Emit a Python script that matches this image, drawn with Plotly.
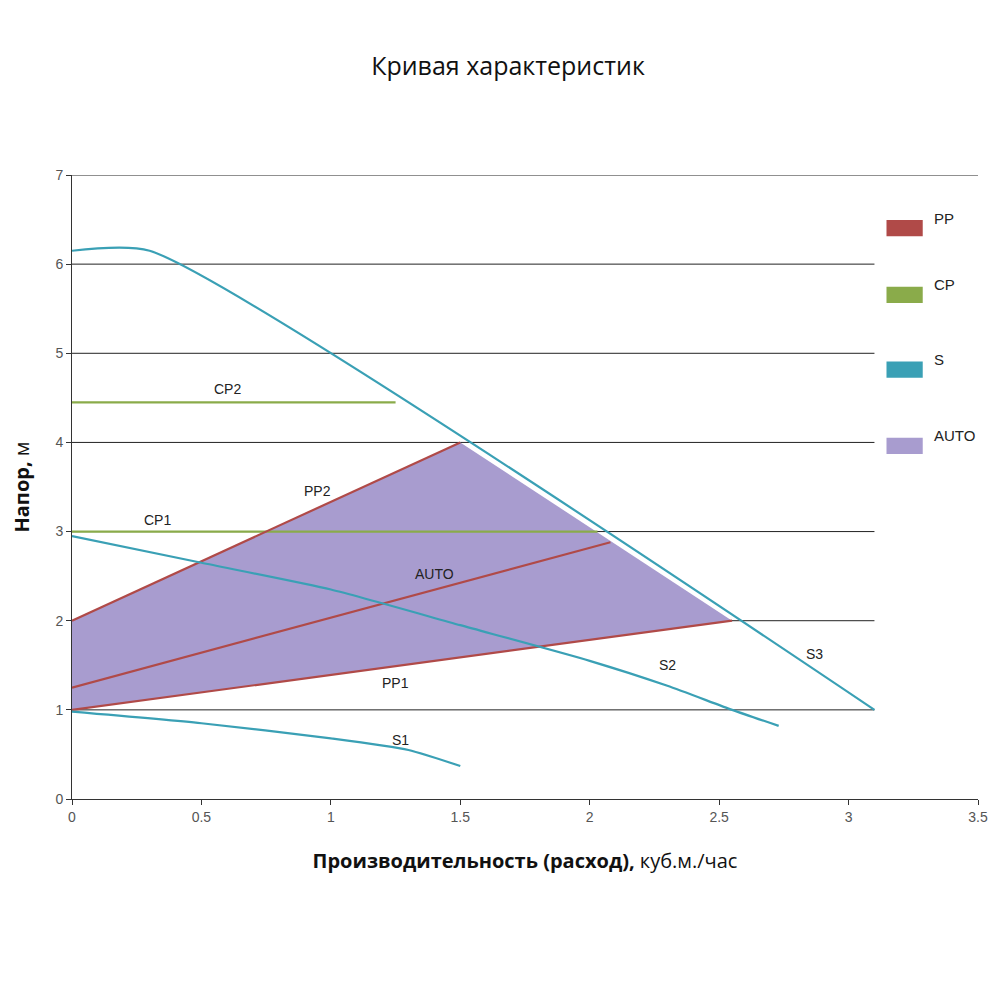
import plotly.graph_objects as go

# curves
s3_x = [0, 0.3, 3.1]
s3_y = [6.15, 6.15, 1.0]
s2_x = [0, 0.5, 1.0, 1.5, 2.0, 2.3, 2.55, 2.73]
s2_y = [2.95, 2.65, 2.35, 1.95, 1.55, 1.27, 1.0, 0.82]
s1_x = [0, 0.5, 1.0, 1.3, 1.5]
s1_y = [0.98, 0.85, 0.68, 0.55, 0.37]
cp2_x, cp2_y = [0, 1.25], [4.45, 4.45]
cp1_x, cp1_y = [0, 2.03], [3.0, 3.0]
pp2_x, pp2_y = [0, 1.5], [2.0, 4.0]
pp1_x, pp1_y = [0, 2.55], [1.0, 2.0]
auto_x, auto_y = [0, 2.08], [1.25, 2.88]
area_x = [0, 0, 1.5, 2.55, 0]
area_y = [1, 2, 4, 2, 1]

labels = [("CP2", 0.6, 4.6), ("CP1", 0.33, 3.13), ("PP2", 0.95, 3.45),
          ("AUTO", 1.4, 2.52), ("PP1", 1.25, 1.3), ("S1", 1.27, 0.66),
          ("S2", 2.3, 1.5), ("S3", 2.87, 1.63)]

PP, CP, S, AUTO = "#b04a48", "#8aab4a", "#3aa0b5", "#a89ccf"

fig = go.Figure()
fig.add_trace(go.Scatter(x=area_x, y=area_y, fill="toself", fillcolor=AUTO,
                         line=dict(width=0), mode="lines"))
for xs, ys, c in [(cp2_x, cp2_y, CP), (cp1_x, cp1_y, CP),
                  (pp2_x, pp2_y, PP), (pp1_x, pp1_y, PP), (auto_x, auto_y, PP),
                  (s1_x, s1_y, S), (s2_x, s2_y, S), (s3_x, s3_y, S)]:
    fig.add_trace(go.Scatter(x=xs, y=ys, mode="lines",
                             line=dict(color=c, width=2.2, shape="spline", smoothing=0.6)))

# gridlines stop short of the right edge
for g in range(1, 7):
    fig.add_shape(type="line", x0=0, x1=3.1, y0=g, y1=g, layer="below",
                  line=dict(color="#222", width=1))
fig.add_shape(type="line", x0=0, x1=3.5, y0=7, y1=7, layer="below",
              line=dict(color="#222", width=1))

for t, x, y in labels:
    fig.add_annotation(x=x, y=y, text=t, showarrow=False,
                       font=dict(size=14, color="#222", family="Liberation Sans"))

# legend drawn by hand
for i, (name, c) in enumerate([("PP", PP), ("CP", CP), ("S", S), ("AUTO", AUTO)]):
    yy = [0.915, 0.808, 0.688, 0.566][i]
    fig.add_shape(type="rect", xref="paper", yref="paper", x0=0.899, x1=0.939,
                  y0=yy - 0.013, y1=yy + 0.013, fillcolor=c, line=dict(width=0))
    fig.add_annotation(xref="paper", yref="paper", x=0.949, y=yy, text=name,
                       showarrow=False, xanchor="left", yanchor="middle", yshift=10,
                       font=dict(size=15, color="#222", family="Liberation Sans"))

fig.update_layout(
    width=1000, height=998, paper_bgcolor="white", plot_bgcolor="white",
    showlegend=False, margin=dict(l=64, r=30, t=167, b=207),
    title=dict(text="Кривая характеристик", x=0.5, y=0.95,
               font=dict(size=25, color="#111", family="Open Sans")),
    font=dict(family="Liberation Sans", size=14, color="#555"),
)
fig.update_xaxes(range=[0, 3.5], dtick=0.5, showgrid=False, showline=True,
                 linecolor="#333", ticks="outside", ticklen=5, tickcolor="#333",
                 title=dict(text="<b>Производительность (расход),</b> куб.м./час",
                            font=dict(size=20, color="#111", family="Open Sans"),
                            standoff=30))
fig.update_yaxes(range=[0, 7], dtick=1, showgrid=False, showline=True,
                 linecolor="#333", ticks="outside", ticklen=5, tickcolor="#333",
                 title=dict(text="<b>Напор,</b> м",
                            font=dict(size=20, color="#111", family="Open Sans"),
                            standoff=20))
fig.write_html("out.html")
